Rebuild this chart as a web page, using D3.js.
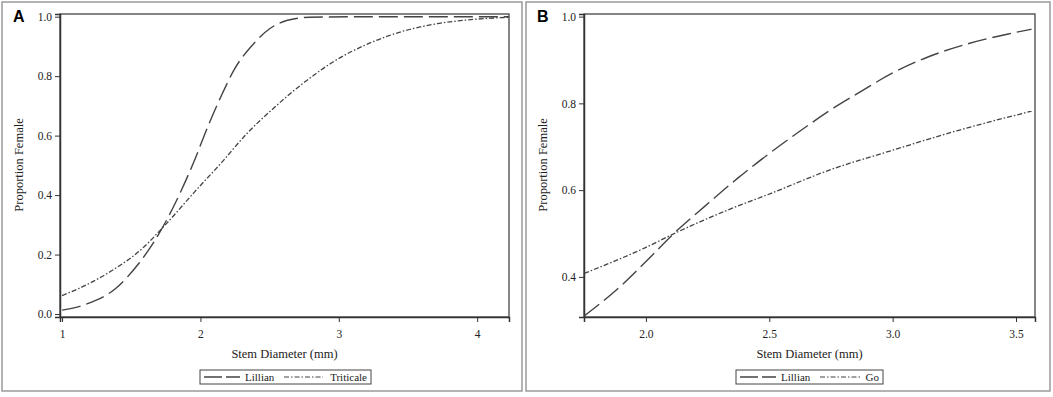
<!DOCTYPE html>
<html>
<head>
<meta charset="utf-8">
<script src="https://cdn.jsdelivr.net/npm/d3@7"></script>
<style>
  body { margin: 0; background: #fff; }
  svg text { font-family: "Liberation Serif", "Times New Roman", serif; fill: #222; }
</style>
</head>
<body>
<svg id="chart" width="1053" height="397"></svg>
<script>
// Panel A: stem diameter vs proportion female
const diamA_lillian = [1.0, 1.174, 1.387, 1.554, 1.673, 1.768, 1.863, 1.958, 2.053, 2.148, 2.243, 2.386, 2.505, 2.623, 2.79, 3.2, 3.8, 4.23];
const propA_lillian = [0.013, 0.033, 0.086, 0.17, 0.249, 0.327, 0.417, 0.518, 0.63, 0.731, 0.821, 0.91, 0.961, 0.987, 0.998, 1.0, 1.0, 1.0];
const diamA_triticale = [1.0, 1.197, 1.387, 1.554, 1.756, 1.958, 2.148, 2.338, 2.528, 2.742, 2.98, 3.218, 3.455, 3.693, 3.931, 4.23];
const propA_triticale = [0.062, 0.103, 0.154, 0.21, 0.305, 0.411, 0.507, 0.608, 0.692, 0.776, 0.854, 0.91, 0.95, 0.975, 0.989, 0.998];

// Panel B
const diamB_lillian = [1.75, 1.902, 1.996, 2.117, 2.237, 2.371, 2.492, 2.639, 2.746, 2.867, 3.0, 3.148, 3.309, 3.469, 3.563];
const propB_lillian = [0.31, 0.381, 0.433, 0.502, 0.562, 0.627, 0.681, 0.742, 0.784, 0.826, 0.87, 0.908, 0.938, 0.96, 0.971];
const diamB_go = [1.75, 1.996, 2.13, 2.331, 2.505, 2.733, 3.0, 3.268, 3.563];
const propB_go = [0.408, 0.467, 0.504, 0.554, 0.592, 0.644, 0.692, 0.738, 0.782];

const ticksA_x = [1, 2, 3, 4];
const ticksA_y = [0, 0.2, 0.4, 0.6, 0.8, 1.0];
const ticksB_x = [2.0, 2.5, 3.0, 3.5];
const ticksB_y = [0.4, 0.6, 0.8, 1.0];

const svg = d3.select("#chart");
const LILLIAN_DASH = "19,6";
const OTHER_DASH = "5,2,1.5,2";

function zip(xs, ys) { return xs.map((x, i) => ({ x: x, y: ys[i] })); }

function panel(cfg) {
    // outer border
    svg.append("rect")
        .attr("x", cfg.box[0]).attr("y", 2)
        .attr("width", cfg.box[1] - cfg.box[0]).attr("height", 389)
        .attr("fill", "none").attr("stroke", "#9a9a9a").attr("stroke-width", 1.5);

    svg.append("text")
        .attr("x", cfg.box[0] + 11).attr("y", 22)
        .style("font-family", "'Liberation Sans', Arial, sans-serif")
        .style("font-weight", "bold").style("font-size", "16px")
        .style("fill", "#000")
        .text(cfg.label);

    const x = d3.scaleLinear().domain(cfg.xDomain).range([cfg.left, cfg.right]);
    const y = d3.scaleLinear().domain(cfg.yDomain).range([317, 14]);

    const g = svg.append("g");

    // frame
    g.append("rect")
        .attr("x", cfg.left).attr("y", 14)
        .attr("width", cfg.right - cfg.left).attr("height", 303)
        .attr("fill", "none").attr("stroke", "#444").attr("stroke-width", 1.3);

    const xAxis = g.append("g")
        .attr("transform", "translate(0,317)")
        .call(d3.axisBottom(x).tickValues(cfg.xTicks).tickFormat(cfg.xFormat).tickSize(5).tickPadding(8));
    const yAxis = g.append("g")
        .attr("transform", `translate(${cfg.left},0)`)
        .call(d3.axisLeft(y).tickValues(cfg.yTicks).tickFormat(d3.format(".1f")).tickSize(5).tickPadding(3));
    [xAxis, yAxis].forEach(a => {
        a.attr("font-family", null);
        a.select(".domain").attr("stroke", "#333").attr("stroke-width", 1.5);
        a.selectAll(".tick line").attr("stroke", "#333");
        a.selectAll(".tick text")
            .style("font-family", "'Liberation Serif', serif")
            .style("font-size", "11.5px").attr("fill", "#222");
    });

    const line = d3.line().x(d => x(d.x)).y(d => y(d.y)).curve(d3.curveMonotoneX);

    g.append("path").datum(zip(cfg.s1x, cfg.s1y))
        .attr("d", line).attr("fill", "none")
        .attr("stroke", "#444").attr("stroke-width", 1.4)
        .attr("stroke-dasharray", LILLIAN_DASH);
    g.append("path").datum(zip(cfg.s2x, cfg.s2y))
        .attr("d", line).attr("fill", "none")
        .attr("stroke", "#444").attr("stroke-width", 1.3)
        .attr("stroke-dasharray", OTHER_DASH);

    // axis titles
    svg.append("text")
        .attr("x", (cfg.left + cfg.right) / 2).attr("y", 358)
        .attr("text-anchor", "middle").style("font-size", "12.5px")
        .text("Stem Diameter (mm)");
    svg.append("text")
        .attr("transform", `translate(${cfg.box[0] + 21},165) rotate(-90)`)
        .attr("text-anchor", "middle").style("font-size", "12.5px")
        .text("Proportion Female");

    // legend
    const lg = svg.append("g").attr("transform", `translate(${cfg.legend[0]},370)`);
    lg.append("rect").attr("width", cfg.legend[1]).attr("height", 14)
        .attr("fill", "none").attr("stroke", "#444").attr("stroke-width", 1);
    lg.append("line").attr("x1", 4).attr("x2", 40).attr("y1", 7).attr("y2", 7)
        .attr("stroke", "#444").attr("stroke-width", 1.3).attr("stroke-dasharray", "18,4");
    lg.append("text").attr("x", 45).attr("y", 11).style("font-size", "11px").text("Lillian");
    lg.append("line").attr("x1", 84).attr("x2", cfg.legend[1] - cfg.name2w - 8).attr("y1", 7).attr("y2", 7)
        .attr("stroke", "#444").attr("stroke-width", 1.2).attr("stroke-dasharray", OTHER_DASH);
    lg.append("text").attr("x", cfg.legend[1] - 4).attr("y", 11)
        .attr("text-anchor", "end").style("font-size", "11px").text(cfg.name2);
}

panel({
    label: "A", box: [2, 522], left: 60, right: 509,
    xDomain: [0.985, 4.23], yDomain: [-0.01, 1.009],
    xTicks: ticksA_x, yTicks: ticksA_y, xFormat: d3.format("d"),
    s1x: diamA_lillian, s1y: propA_lillian, s2x: diamA_triticale, s2y: propA_triticale,
    legend: [200, 171], name2: "Triticale", name2w: 40
});

panel({
    label: "B", box: [526, 1050], left: 584, right: 1035,
    xDomain: [1.749, 3.577], yDomain: [0.3075, 1.006],
    xTicks: ticksB_x, yTicks: ticksB_y, xFormat: d3.format(".1f"),
    s1x: diamB_lillian, s1y: propB_lillian, s2x: diamB_go, s2y: propB_go,
    legend: [736, 147], name2: "Go", name2w: 13
});
</script>
</body>
</html>
